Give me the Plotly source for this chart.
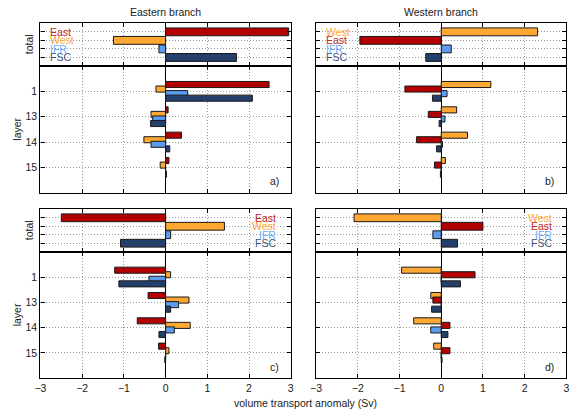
import plotly.graph_objects as go

# Volume transport anomalies (Sv): first value is the total, then layers 1, 13, 14, 15
layer_labels = ["1", "13", "14", "15"]

# a) Eastern branch, upper case
east_a = [2.95, 2.48, 0.06, 0.38, 0.08]
west_a = [-1.25, -0.23, -0.35, -0.52, -0.13]
ifr_a = [-0.16, 0.53, -0.31, -0.35, 0.0]
fsc_a = [1.70, 2.08, -0.36, 0.10, 0.02]

# b) Western branch, upper case
west_b = [2.31, 1.19, 0.37, 0.63, 0.10]
east_b = [-1.95, -0.87, -0.31, -0.59, -0.16]
ifr_b = [0.24, 0.14, 0.09, 0.03, 0.0]
fsc_b = [-0.37, -0.21, -0.05, -0.11, -0.02]

# c) Eastern branch, lower case
east_c = [-2.50, -1.22, -0.42, -0.68, -0.17]
west_c = [1.41, 0.12, 0.56, 0.59, 0.08]
ifr_c = [0.12, -0.40, 0.31, 0.21, 0.0]
fsc_c = [-1.08, -1.12, 0.12, -0.16, -0.02]

# d) Western branch, lower case
west_d = [-2.09, -0.95, -0.25, -0.66, -0.18]
east_d = [1.00, 0.81, -0.20, 0.21, 0.21]
ifr_d = [-0.20, 0.0, 0.0, -0.25, 0.0]
fsc_d = [0.39, 0.46, -0.23, 0.16, 0.02]

FILL = {"East": "#b30000", "West": "#ffa733", "IFR": "#5b9bf0", "FSC": "#243f6a"}
TEXT = {"East": "#c42828", "West": "#ffa733", "IFR": "#6aaaff", "FSC": "#3a4f78"}

FONT = "Liberation Sans, Arial, sans-serif"
FS = 10.5

W = 574.0
H = 410.0


def px_x(a, b):
    return [a / W, b / W]


def px_y(top, bottom):
    return [(H - bottom) / H, (H - top) / H]


col_x = [px_x(35, 289.3), px_x(315, 569.3)]
row_y = [
    (px_y(23.3, 66), px_y(66, 192.7)),
    (px_y(209.3, 251.7), px_y(251.7, 378.3)),
]

panels = [
    ("a)", 0, 0, [("East", east_a), ("West", west_a), ("IFR", ifr_a), ("FSC", fsc_a)], "left"),
    ("b)", 0, 1, [("West", west_b), ("East", east_b), ("IFR", ifr_b), ("FSC", fsc_b)], "left"),
    ("c)", 1, 0, [("East", east_c), ("West", west_c), ("IFR", ifr_c), ("FSC", fsc_c)], "right"),
    ("d)", 1, 1, [("West", west_d), ("East", east_d), ("IFR", ifr_d), ("FSC", fsc_d)], "right"),
]

layer_offsets = [-0.27, -0.09, 0.09, 0.27]

fig = go.Figure()
layout = {}
annotations = []

axis_common = dict(
    showline=True, linecolor="black", linewidth=1.3, mirror="ticks",
    ticks="inside", ticklen=4, tickwidth=1, tickcolor="black",
    showgrid=True, gridcolor="#9a9a9a", gridwidth=1, griddash="1px,2px",
    tickfont=dict(family=FONT, size=FS, color="#1a1a1a"),
)

n = 0
for label, r, c, series, align in panels:
    tot_dom, lay_dom = row_y[r]
    for part, ydom in (("total", tot_dom), ("layer", lay_dom)):
        n += 1
        xa = "xaxis" if n == 1 else f"xaxis{n}"
        ya = "yaxis" if n == 1 else f"yaxis{n}"
        xref = "x" if n == 1 else f"x{n}"
        yref = "y" if n == 1 else f"y{n}"
        show_x_labels = (r == 1 and part == "layer")
        layout[xa] = dict(
            axis_common, domain=col_x[c], anchor=yref, range=[-3, 3],
            tickvals=[-3, -2, -1, 0, 1, 2, 3], showticklabels=show_x_labels,
            zeroline=True, zerolinecolor="black", zerolinewidth=1.3,
        )
        ydict = dict(
            axis_common, domain=ydom, anchor=xref, range=[5, 0],
            tickvals=[1, 2, 3, 4], zeroline=False,
        )
        if part == "layer" and c == 0:
            ydict["ticktext"] = layer_labels
            ydict["showticklabels"] = True
        else:
            ydict["showticklabels"] = False
        layout[ya] = ydict

        for j, (name, vals) in enumerate(series):
            if part == "total":
                xs = [vals[0]]
                ys = [j + 1]
                width = 0.92
            else:
                xs = vals[1:]
                ys = [k + 1 + layer_offsets[j] for k in range(len(layer_labels))]
                width = 0.24
            fig.add_trace(go.Bar(
                x=xs, y=ys, orientation="h", width=width,
                marker=dict(color=FILL[name], line=dict(color="#1a1a1a", width=1)),
                xaxis=xref, yaxis=yref, showlegend=False, name=name,
            ))

        if part == "total":
            # series key written inside the totals box
            for j, (name, _) in enumerate(series):
                annotations.append(dict(
                    x=0.03 if align == "left" else 0.95,
                    xref=f"{xref} domain", y=j + 1, yref=yref,
                    text=name, showarrow=False,
                    xanchor="left" if align == "left" else "right",
                    yanchor="middle",
                    font=dict(family=FONT, size=FS, color=TEXT[name]),
                ))
        else:
            annotations.append(dict(
                x=0.96, xref=f"{xref} domain", y=0.09, yref=f"{yref} domain",
                text=label, showarrow=False, xanchor="right", yanchor="middle",
                font=dict(family=FONT, size=FS, color="#1a1a1a"),
            ))

# column titles
for title, c in (("Eastern branch", 0), ("Western branch", 1)):
    annotations.append(dict(
        x=sum(col_x[c]) / 2, y=1 - 12.3 / H, xref="paper", yref="paper",
        text=title, showarrow=False, xanchor="center", yanchor="middle",
        font=dict(family=FONT, size=FS, color="#1a1a1a"),
    ))

# row titles
for r in range(2):
    tot_dom, lay_dom = row_y[r]
    annotations.append(dict(
        x=23 / W, y=sum(tot_dom) / 2, xref="paper", yref="paper",
        text="total", textangle=-90, showarrow=False,
        xanchor="center", yanchor="middle",
        font=dict(family=FONT, size=FS, color="#1a1a1a"),
    ))
    annotations.append(dict(
        x=11.5 / W, y=sum(lay_dom) / 2, xref="paper", yref="paper",
        text="layer", textangle=-90, showarrow=False,
        xanchor="center", yanchor="middle",
        font=dict(family=FONT, size=FS, color="#1a1a1a"),
    ))

annotations.append(dict(
    x=304 / W, y=1 - 403 / H, xref="paper", yref="paper",
    text="volume transport anomaly (Sv)", showarrow=False,
    xanchor="center", yanchor="middle",
    font=dict(family=FONT, size=FS, color="#1a1a1a"),
))

fig.update_layout(
    **layout,
    annotations=annotations,
    barmode="overlay",
    width=574, height=410,
    margin=dict(l=0, r=0, t=0, b=0),
    paper_bgcolor="white", plot_bgcolor="white",
    showlegend=False,
)

fig.write_html("out.html", config={"displayModeBar": False})
